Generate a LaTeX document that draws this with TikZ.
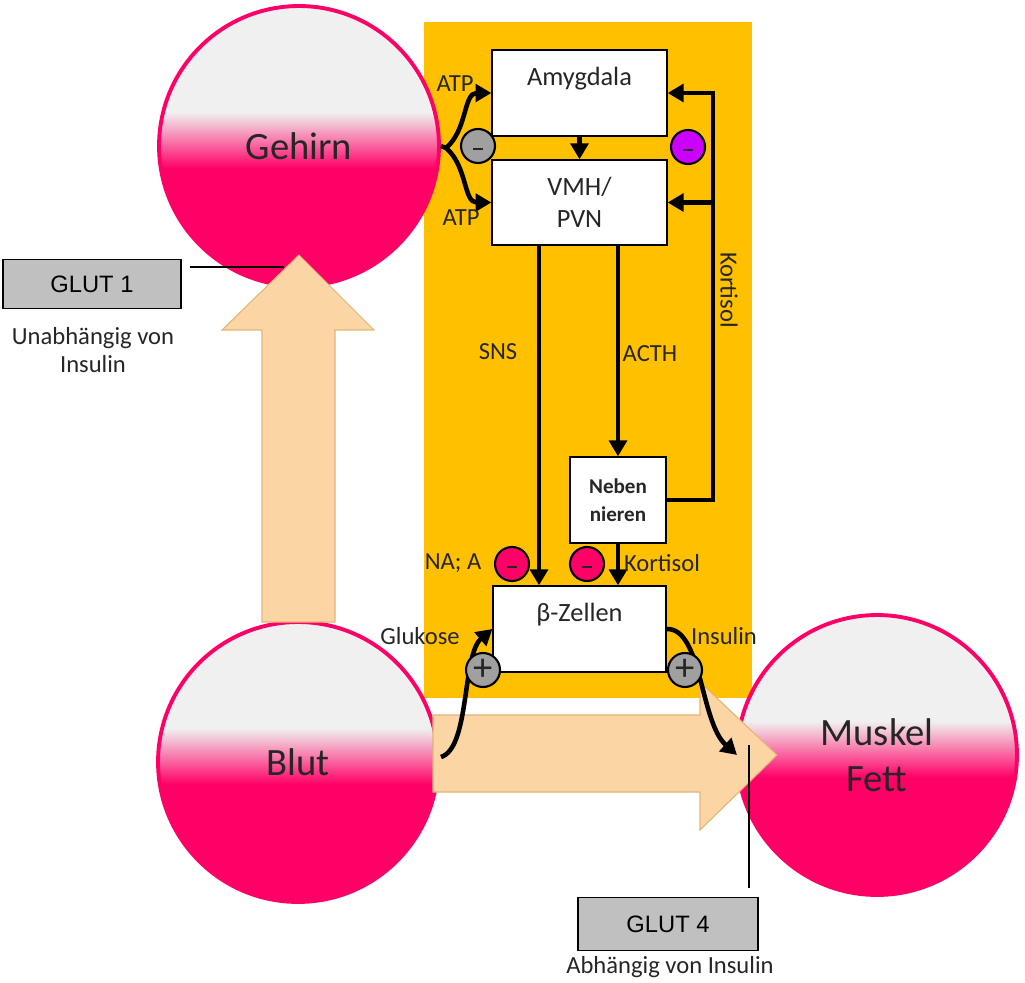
\documentclass[tikz,border=0pt]{standalone}
\usepackage{fontspec}
\setmainfont{Carlito}
\newfontfamily\arialfont{Liberation Sans}
\usetikzlibrary{arrows.meta}

\definecolor{organpink}{RGB}{255,0,102}
\definecolor{organgray}{RGB}{240,240,240}
\definecolor{panel}{RGB}{255,192,0}
\definecolor{peach}{RGB}{252,213,165}
\definecolor{peachdark}{RGB}{226,180,120}
\definecolor{glutgray}{RGB}{192,192,192}
\definecolor{badgegray}{RGB}{160,160,160}
\definecolor{badgeviolet}{RGB}{204,0,255}
\definecolor{textgray}{RGB}{38,38,38}
\pgfdeclareverticalshading{organshade}{100bp}{color(0bp)=(organpink); color(46bp)=(organpink); color(56bp)=(organgray); color(100bp)=(organgray)}
\newcommand{\minussign}{\rule[-5pt]{5.5pt}{1.4pt}}

\begin{document}
\begin{tikzpicture}[x=0.02cm,y=-0.02cm,
    organ/.style={circle,draw=organpink,line width=2.2pt,shading=organshade,minimum size=5.6cm,inner sep=0pt,align=center,text=textgray,font=\fontsize{22}{27}\selectfont},
    box/.style={rectangle,draw=black,fill=white,line width=0.8pt,minimum width=3.5cm,minimum height=1.72cm,inner sep=0pt,align=center,text=textgray,font=\fontsize{15}{18.5}\selectfont},
    sign/.style={circle,draw=black,line width=1.2pt,minimum size=0.68cm,inner sep=0pt,text=textgray},
    flow/.style={line width=2.6pt,-{Triangle[length=9pt,width=10pt]}},
    lbl/.style={text=textgray,font=\fontsize{14}{16}\selectfont},
    glut/.style={rectangle,draw=black,fill=glutgray,line width=0.9pt,inner sep=0pt,font=\arialfont\fontsize{13.5}{15}\selectfont},
    bigarrow/.style={fill=peach,draw=peachdark,line width=0.6pt}]

\useasboundingbox (0,0) rectangle (1025,983);

\fill[panel] (424,22) rectangle (752,698);

\node[organ] (gehirn) at (299,146) {Gehirn};
\node[organ] (blut) at (298,762) {Blut};
\node[organ,font=\fontsize{22}{26}\selectfont] (muskel) at (877,755) {Muskel\\Fett};

\draw[bigarrow] (262,622) -- (262,330) -- (222,330) -- (299,255) -- (374,330) -- (335,330) -- (335,622) -- cycle;
\draw[bigarrow] (433,715) -- (700,715) -- (700,682) -- (777,755) -- (700,830) -- (700,792) -- (433,792) -- cycle;

\node[glut,minimum width=3.56cm,minimum height=0.98cm] (glut1) at (92,284) {GLUT 1};
\node[lbl,align=center] (glut1txt) at (93,350) {Unabhängig von\\Insulin};
\coordinate (g1a) at (190,267);
\coordinate (g1b) at (284,267);
\draw[line width=0.8pt] (g1a) -- (g1b);

\node[glut,minimum width=3.6cm,minimum height=1.06cm] (glut4) at (668,924) {GLUT 4};
\node[lbl] (glut4txt) at (670,967) {Abhängig von Insulin};
\coordinate (g4a) at (749,745);
\coordinate (g4b) at (749,888);
\draw[line width=0.8pt] (g4a) -- (g4b);

\node[box] (amyg) at (579.5,93) {Amygdala\\[1pt]~};
\node[box,minimum height=1.7cm] (vmh) at (579.5,202.5) {VMH/\\PVN};
\node[box,minimum width=1.92cm,font=\bfseries\fontsize{12}{16}\selectfont] (neben) at (618,500) {Neben\\nieren};
\node[box,minimum width=3.46cm] (beta) at (579.5,629) {β-Zellen\\[1pt]~};

\coordinate (fork) at (446,148);
\draw[line width=2.6pt] (gehirn.east) -- (fork);
\draw[flow] (fork) to[out=40,in=180] (amyg.west);
\draw[flow] (fork) to[out=-40,in=180] (vmh.west);
\draw[flow] (amyg.south) -- (vmh.north);

\coordinate (snsx) at (539,0);
\draw[flow] (vmh.south -| snsx) -- (beta.north -| snsx);
\draw[flow] (vmh.south -| neben.north) -- (neben.north);
\draw[flow] (neben.south) -- (beta.north -| neben.south);

\coordinate (kbend) at (713,500);
\draw[flow,line join=miter] (neben.east) -- (kbend) |- (amyg.east);
\draw[flow] (kbend |- vmh.east) -- (vmh.east);

\coordinate (gstart) at (441,757);
\coordinate (iend) at (737,755);
\draw[flow] (gstart) .. controls (470,748) and (462,655) .. (beta.west);
\draw[flow] (beta.east) .. controls (702,628) and (700,722) .. (iend);

\node[sign,fill=badgegray] (minus1) at (478,146) {\minussign};
\node[sign,fill=badgeviolet] (minus2) at (688,147) {\minussign};
\node[sign,fill=organpink] (minus3) at (512,564) {\minussign};
\node[sign,fill=organpink] (minus4) at (587,564) {\minussign};
\node[sign,fill=badgegray] (plus1) at (483,670) {\raisebox{-3pt}{\fontsize{22}{22}\selectfont +}};
\node[sign,fill=badgegray] (plus2) at (685,670) {\raisebox{-3pt}{\fontsize{22}{22}\selectfont +}};

\node[lbl] (atp1) at (455,84) {ATP};
\node[lbl] (atp2) at (461,218) {ATP};
\node[lbl] (sns) at (498,352) {SNS};
\node[lbl] (acth) at (650,354) {ACTH};
\node[lbl,rotate=-90] (kort1) at (729,290) {Kortisol};
\node[lbl] (na) at (453,563) {NA; A};
\node[lbl] (kort2) at (662,563) {Kortisol};
\node[lbl] (gluk) at (420,636) {Glukose};
\node[lbl] (insul) at (724,636) {Insulin};
\end{tikzpicture}
\end{document}
